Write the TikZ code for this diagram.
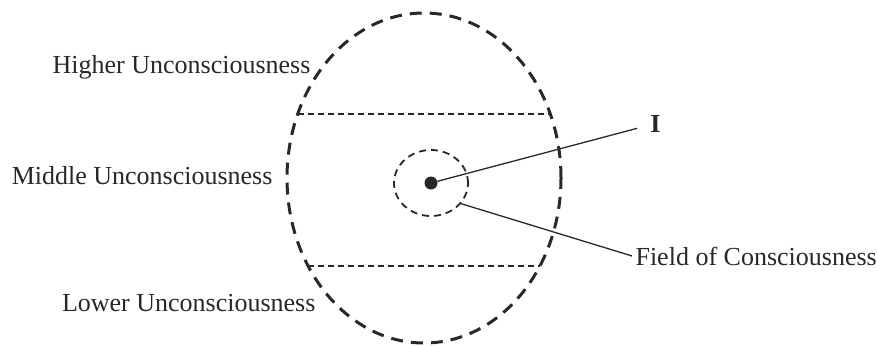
\documentclass[tikz,border=0pt]{standalone}
\usepackage{fontspec}
\setmainfont{Liberation Serif}
\usetikzlibrary{shapes.geometric}
\definecolor{ink}{RGB}{40,40,40}
\tikzset{psyche/.style={x=1pt,y=-1pt,font=\fontsize{26}{30}\selectfont,text=ink},
  oval/.style={ellipse,draw=ink,line width=3pt,dash pattern=on 12pt off 8pt,inner sep=0pt,outer sep=0pt},
  chord/.style={draw=ink,line width=1.4pt,dash pattern=on 6pt off 4pt},
  lead/.style={draw=ink,line width=1.3pt},
  zone/.style={anchor=base east}}

\begin{document}
\begin{tikzpicture}[psyche]
    \useasboundingbox (0,0) rectangle (877,345);
    \node[oval,minimum width=274pt,minimum height=330pt] (mind) at (424,178) {};
    \coordinate (upleft) at (297.5,114);
    \coordinate (upright) at (550.5,114);
    \coordinate (lowleft) at (308,266);
    \coordinate (lowright) at (540,266);
    \draw[chord] (upleft) -- (upright);   % upper limit
    \draw[chord] (lowleft) -- (lowright); % lower limit
    \node[oval,line width=1.8pt,dash pattern=on 7pt off 5pt,minimum width=74pt,minimum height=66pt] (field) at (431,183) {};
    \node[circle,fill=ink,minimum size=13pt,inner sep=0pt] (self) at (431,183) {};
    \node[font=\fontsize{26}{30}\selectfont\bfseries,anchor=base,inner sep=13pt] (I) at (655.5,132) {I};
    \node[anchor=base west] (fieldlabel) at (632,265) {Field of Consciousness};
    \node[zone] (higher) at (314,73) {Higher Unconsciousness};
    \node[zone] (middle) at (276,184) {Middle Unconsciousness};
    \node[zone] (lower) at (319,311) {Lower Unconsciousness};
    \draw[lead] (self) -- (I);
    \draw[lead] (field.-35) -- (fieldlabel.west);
\end{tikzpicture}
\end{document}
